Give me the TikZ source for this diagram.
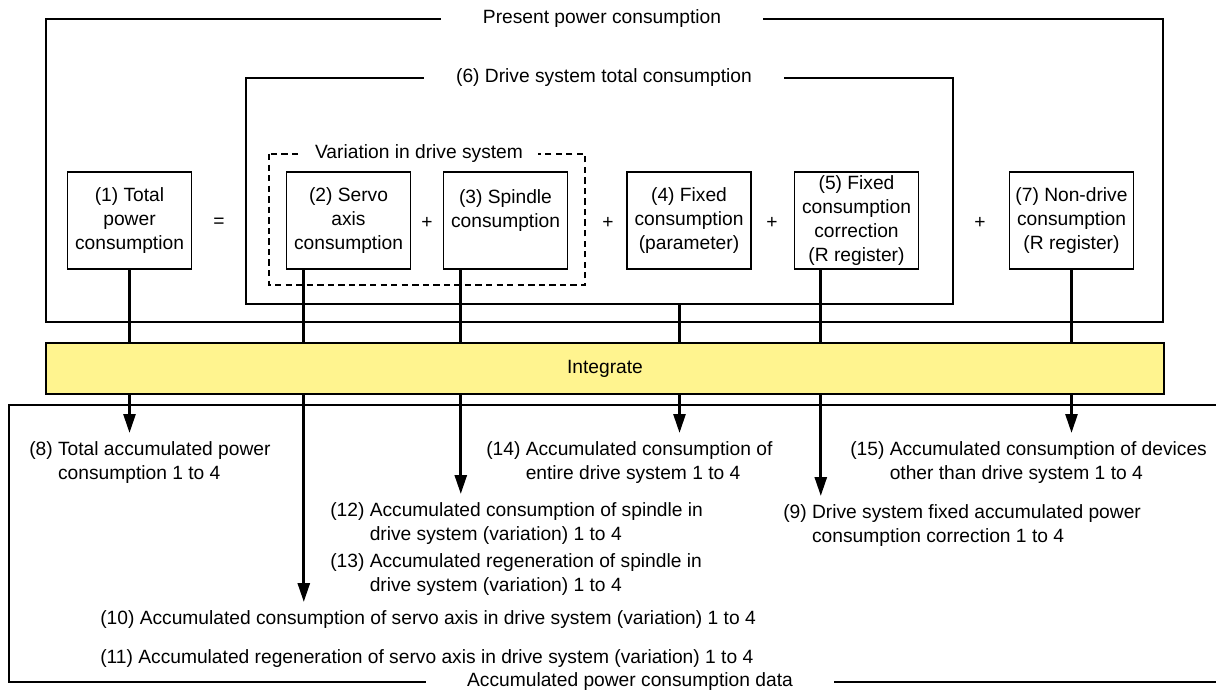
\documentclass[tikz,border=0pt]{standalone}
\usepackage{fontspec}
\setmainfont{Liberation Sans}
\usetikzlibrary{arrows.meta}
\definecolor{intyellow}{RGB}{255,244,143}

\begin{document}
\begin{tikzpicture}[x=0.025cm,y=-0.025cm,
  font=\fontsize{13.66}{17.1}\selectfont,
  box/.style={draw,line width=1pt,minimum width=3.1cm,minimum height=2.425cm,align=center,inner sep=0pt},
  frame/.style={line width=1pt},
  title/.style={fill=white,inner ysep=1pt},
  lbl/.style={anchor=north west,align=left,inner xsep=0pt,inner ysep=6pt},
  flow/.style={line width=2pt,-{Triangle[length=13.5pt,width=8.5pt]}}]
  \useasboundingbox (0,0) rectangle (1216,694);
  % frames
  \draw[frame] (46,19) rectangle (1163,322);
  \draw[frame] (246,78) rectangle (953,304);
  \draw[frame,dash pattern=on 4.5pt off 3pt] (269,154) rectangle (585,285);
  \draw[frame] (1240,405) -- (9,405) -- (9,682) -- (1240,682);
  \coordinate (dtap) at (679.5,304);
  % sources
  \node[box] (b1) at (129.5,220.5) {(1) Total\\power\\consumption};
  \node[box] (b2) at (348.5,220.5) {(2) Servo\\axis\\consumption};
  \node[box] (b3) at (505.5,220.5) {(3) Spindle\\consumption\\\mbox{}};
  \node[box] (b4) at (689,220.5) {(4) Fixed\\consumption\\(parameter)};
  \node[box] (b5) at (856.5,220.5) {(5) Fixed\\consumption\\correction\\(R register)};
  \node[box] (b7) at (1071.5,220.5) {(7) Non-drive\\consumption\\(R register)};
  \node (eq) at (219,223) {=};
  \node (p1) at (427,223) {+};
  \node (p2) at (608,223) {+};
  \node (p3) at (772,223) {+};
  \node (p4) at (980,223) {+};
  % results
  \node[lbl] (l8) at (29,433) {(8) Total accumulated power\\\hphantom{(8) }consumption 1 to 4};
  \node[lbl] (l14) at (486,433) {(14) Accumulated consumption of\\\hphantom{(14) }entire drive system 1 to 4};
  \node[lbl] (l15) at (850,433) {(15) Accumulated consumption of devices\\\hphantom{(15) }other than drive system 1 to 4};
  \node[lbl] (l12) at (330,494) {(12) Accumulated consumption of spindle in\\\hphantom{(12) }drive system (variation) 1 to 4};
  \node[lbl] (l13) at (330,545) {(13) Accumulated regeneration of spindle in\\\hphantom{(13) }drive system (variation) 1 to 4};
  \node[lbl] (l9) at (783,496) {(9) Drive system fixed accumulated power\\\hphantom{(9) }consumption correction 1 to 4};
  \node[lbl] (l10) at (100,602) {(10) Accumulated consumption of servo axis in drive system (variation) 1 to 4};
  \node[lbl] (l11) at (100,641) {(11) Accumulated regeneration of servo axis in drive system (variation) 1 to 4};
  % connectors
  \path (b2.south west) ++(18,0) coordinate (c2);
  \path (b3.south west) ++(18,0) coordinate (c3);
  \path (b5.south west) ++(27,0) coordinate (c5);
  \draw[flow] (b1.south) -- (b1.south |- l8.north);
  \draw[flow] (c2) -- (c2 |- l10.north);
  \draw[flow] (c3) -- (c3 |- l12.north);
  \draw[flow] (dtap) -- (dtap |- l14.north);
  \draw[flow] (c5) -- (c5 |- l9.north);
  \draw[flow] (b7.south) -- (b7.south |- l15.north);
  \node[draw,line width=1pt,fill=intyellow,minimum width=27.95cm,minimum height=1.275cm,inner sep=0pt] (int) at (605,368.5) {Integrate};
  % frame titles
  \node[title,inner xsep=30pt] (t1) at (602,19) {Present power consumption};
  \node[title,inner xsep=23pt] (t2) at (604,78) {(6) Drive system total consumption};
  \node[title,inner xsep=11pt] (t3) at (419,154) {Variation in drive system};
  \node[title,inner xsep=29pt,inner ysep=0pt] (t4) at (630,682) {Accumulated power consumption data};
\end{tikzpicture}
\end{document}
